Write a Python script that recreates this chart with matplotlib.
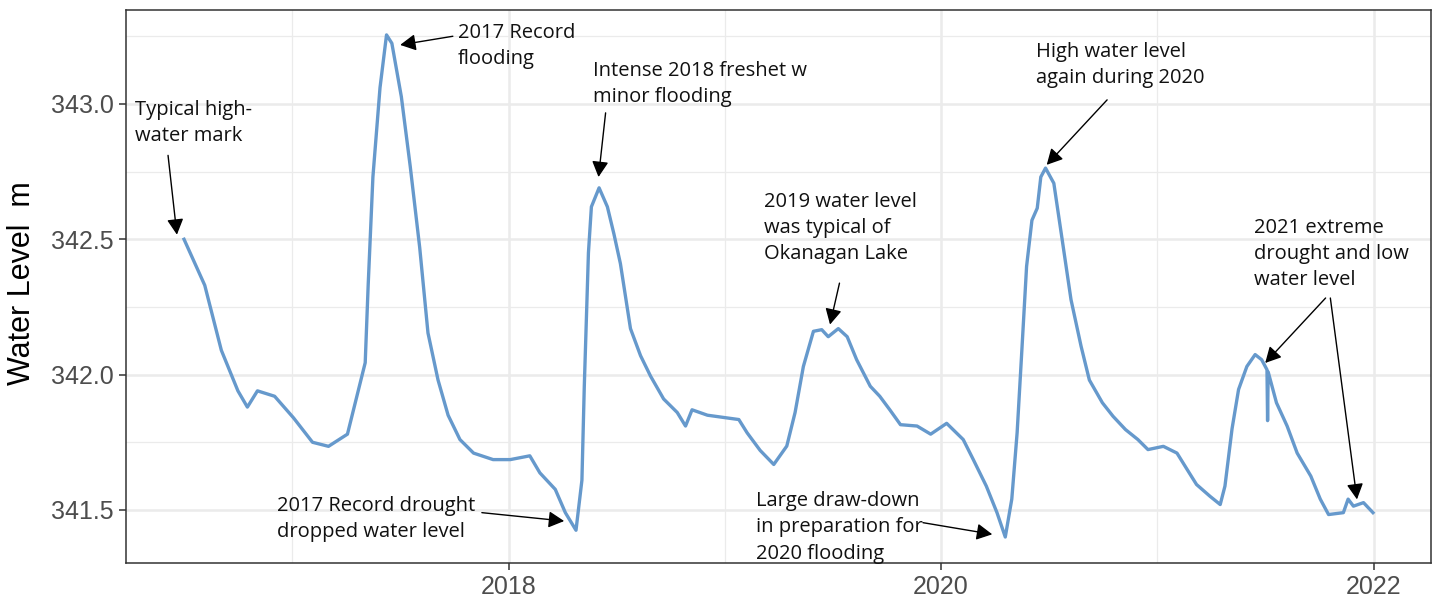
import matplotlib
matplotlib.use("Agg")
import matplotlib.pyplot as plt
import pandas as pd

# ---------------- data ----------------
dates = [
    "2016-07-02", "2016-08-06", "2016-09-03", "2016-10-01", "2016-10-17", "2016-11-03",
    "2016-12-02", "2017-01-03", "2017-02-04", "2017-03-03", "2017-04-04", "2017-05-04",
    "2017-05-09", "2017-05-17", "2017-05-29", "2017-06-09", "2017-06-18", "2017-07-04",
    "2017-07-19", "2017-08-04", "2017-08-18", "2017-09-04", "2017-09-21", "2017-10-11",
    "2017-11-03", "2017-12-06", "2018-01-04", "2018-02-06", "2018-02-23",
    "2018-03-21", "2018-04-07", "2018-04-25", "2018-05-05", "2018-05-09", "2018-05-16",
    "2018-05-21", "2018-06-03", "2018-06-17", "2018-06-28", "2018-07-09", "2018-07-26",
    "2018-08-12", "2018-08-29", "2018-09-20", "2018-10-13", "2018-10-27", "2018-11-07",
    "2018-12-03", "2019-01-05", "2019-01-25", "2019-02-08", "2019-03-02", "2019-03-25",
    "2019-04-16", "2019-04-30", "2019-05-14", "2019-05-31", "2019-06-14", "2019-06-25",
    "2019-07-12", "2019-07-27", "2019-08-12", "2019-09-04", "2019-09-20", "2019-10-07",
    "2019-10-25", "2019-11-22", "2019-12-15", "2020-01-11", "2020-02-08", "2020-02-25",
    "2020-03-18", "2020-04-05", "2020-04-19", "2020-04-30", "2020-05-09", "2020-05-17",
    "2020-05-25", "2020-06-03", "2020-06-12", "2020-06-18", "2020-06-26", "2020-07-10",
    "2020-07-24", "2020-08-08", "2020-08-25", "2020-09-08", "2020-09-30", "2020-10-18",
    "2020-11-08", "2020-11-29", "2020-12-16", "2021-01-11",
    "2021-02-03", "2021-02-20", "2021-03-08", "2021-03-31", "2021-04-17", "2021-04-25",
    "2021-05-07", "2021-05-18", "2021-06-01", "2021-06-15", "2021-06-26", "2021-07-05",
    "2021-07-06", "2021-07-07", "2021-07-21", "2021-08-08", "2021-08-25", "2021-09-17",
    "2021-10-03", "2021-10-17", "2021-11-11", "2021-11-19", "2021-11-28", "2021-12-15",
    "2021-12-31",
]
water_level = [
    342.50, 342.33, 342.09, 341.94, 341.88, 341.94,
    341.92, 341.84, 341.75, 341.735, 341.78, 342.044,
    342.33, 342.73, 343.06, 343.255, 343.224, 343.027,
    342.77, 342.47, 342.154, 341.98, 341.85, 341.76,
    341.71, 341.686, 341.686, 341.70, 341.637,
    341.576, 341.49, 341.425, 341.61, 341.957, 342.45,
    342.62, 342.69, 342.62, 342.52, 342.41, 342.17,
    342.07, 341.994, 341.91, 341.86, 341.81, 341.87,
    341.85, 341.84, 341.834, 341.785, 341.72, 341.668,
    341.736, 341.86, 342.03, 342.16, 342.166, 342.14,
    342.17, 342.14, 342.055, 341.957, 341.92, 341.87,
    341.815, 341.81, 341.78, 341.82, 341.76, 341.686,
    341.588, 341.49, 341.40, 341.54, 341.785, 342.09,
    342.40, 342.57, 342.615, 342.73, 342.763, 342.707,
    342.50, 342.277, 342.105, 341.98, 341.896, 341.846,
    341.797, 341.76, 341.723, 341.735,
    341.71, 341.65, 341.594, 341.55, 341.52, 341.588,
    341.80, 341.945, 342.03, 342.074, 342.055, 342.018,
    341.83, 342.01, 341.896, 341.81, 341.71, 341.625,
    341.54, 341.483, 341.49, 341.54, 341.514, 341.527,
    341.49,
]

note_texts = [
    "Typical high-\nwater mark",
    "2017 Record\nflooding",
    "Intense 2018 freshet w\nminor flooding",
    "2019 water level\nwas typical of\nOkanagan Lake",
    "High water level\nagain during 2020",
    "2021 extreme\ndrought and low\nwater level",
    "2017 Record drought\ndropped water level",
    "Large draw-down\nin preparation for\n2020 flooding",
]
note_x = ["2016-04-10", "2017-10-07", "2018-05-23", "2019-03-08",
          "2020-06-10", "2021-06-13", "2016-12-06", "2019-02-23"]
note_y = [343.015, 343.30, 343.16, 342.676, 343.23, 342.579, 341.551, 341.57]

# arrows: start and tip positions
arrow_from_x = ["2016-06-05", "2017-09-29", "2018-06-14", "2019-07-14",
                "2020-10-08", "2021-10-12", "2021-10-20", "2017-11-17", "2019-12-02"]
arrow_from_y = [342.81, 343.25, 342.967, 342.338, 343.015, 342.283, 342.283, 341.49, 341.453]
arrow_to_x = ["2016-06-20", "2017-07-02", "2018-06-02", "2019-06-28",
              "2020-06-28", "2021-07-02", "2021-12-04", "2018-04-05", "2020-03-28"]
arrow_to_y = [342.517, 343.218, 342.73, 342.185, 342.775, 342.043, 341.539, 341.459, 341.41]

major_years = ["2018-01-01", "2020-01-01", "2022-01-01"]
minor_years = ["2017-01-01", "2019-01-01", "2021-01-01"]
major_year_labels = ["2018", "2020", "2022"]
y_major = [341.5, 342.0, 342.5, 343.0]
y_minor = [341.75, 342.25, 342.75, 343.25]

# ---------------- figure ----------------
W, H = 1434, 601
fig = plt.figure(figsize=(W / 100, H / 100), dpi=100)
ax = fig.add_axes([126 / W, 1 - 563 / H, (1431 - 126) / W, (563 - 10) / H])

x = pd.to_datetime(dates)
ax.plot(x, water_level, color="#6699CC", lw=2.4, solid_joinstyle="round", zorder=3)

ax.set_xlim(pd.Timestamp("2016-03-26"), pd.Timestamp("2022-04-08"))
ax.set_ylim(341.304, 343.347)

ax.set_xticks(pd.to_datetime(major_years))
ax.set_xticklabels(major_year_labels)
ax.set_xticks(pd.to_datetime(minor_years), minor=True)
ax.set_yticks(y_major)
ax.set_yticklabels([f"{v:.1f}" for v in y_major])
ax.set_yticks(y_minor, minor=True)

grid_c = "#EBEBEB"
ax.grid(which="major", color=grid_c, lw=1.8, zorder=0)
ax.grid(which="minor", color=grid_c, lw=0.9, zorder=0)
ax.set_axisbelow(True)

for s in ax.spines.values():
    s.set_color("#333333")
    s.set_linewidth(1.1)

ax.tick_params(which="major", length=5, width=1.1, color="#333333",
               labelcolor="#4D4D4D", labelsize=18, pad=4)
ax.tick_params(which="minor", length=0)
for lab in ax.get_xticklabels() + ax.get_yticklabels():
    lab.set_fontfamily("Liberation Sans")

fig.text(22 / W, 1 - 283 / H, "Water Level  m", rotation=90, ha="center", va="center",
         fontsize=22, family="Liberation Sans", color="black")

for t, xx, yy in zip(note_texts, note_x, note_y):
    ax.text(pd.Timestamp(xx), yy, t, ha="left", va="top", fontsize=14.5,
            family="Open Sans", color="#111111", linespacing=1.42, zorder=5, clip_on=False)

for fx, fy, tx, ty in zip(arrow_from_x, arrow_from_y, arrow_to_x, arrow_to_y):
    ax.annotate("", xy=(pd.Timestamp(tx), ty), xytext=(pd.Timestamp(fx), fy),
                arrowprops=dict(arrowstyle="-|>,head_length=0.95,head_width=0.5",
                                color="black", lw=1.0, shrinkA=0, shrinkB=0),
                annotation_clip=False, zorder=6)

fig.savefig("out.png", dpi=100)
